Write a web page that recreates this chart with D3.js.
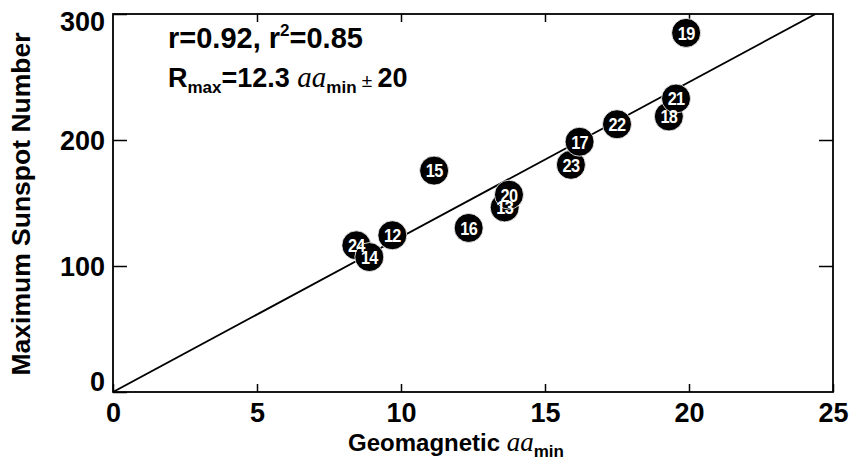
<!DOCTYPE html>
<html>
<head>
<meta charset="utf-8">
<script src="https://cdn.jsdelivr.net/npm/d3@7"></script>
<style>
  html, body { margin: 0; padding: 0; background: #fff; }
  svg { display: block; }
  text { font-family: "Liberation Sans", Arial, Helvetica, sans-serif; font-weight: bold; fill: #000; }
</style>
</head>
<body>
<svg id="chart" width="850" height="468"></svg>
<script>
// Solar cycle numbers, minimum geomagnetic aa index and maximum sunspot number
const cycles = [12, 13, 14, 15, 16, 17, 18, 19, 20, 21, 22, 23, 24];
const aaMin  = [9.7, 13.6, 8.9, 11.15, 12.35, 16.2, 19.3, 19.9, 13.75, 19.55, 17.5, 15.9, 8.45];
const rMax   = [124.4, 146.5, 107.1, 175.7, 130.2, 198.6, 218.7, 285.0, 156.6, 232.9, 212.5, 180.3, 116.4];

// Regression fit through the origin: Rmax = 12.3 aa_min
const fitSlope = 12.3;
const fitXRange = [0, 25];

const xTicks = [0, 5, 10, 15, 20, 25];
const yTicks = [0, 100, 200, 300];

const svg = d3.select("#chart");
const W = 850, H = 468;
const margin = { left: 113, right: 17, top: 14, bottom: 76 };
const x = d3.scaleLinear().domain([0, 25]).range([margin.left, W - margin.right]);
const y = d3.scaleLinear().domain([0, 300]).range([H - margin.bottom, margin.top]);

svg.append("defs").append("clipPath").attr("id", "plotClip")
  .append("rect")
  .attr("x", x(0)).attr("y", y(300))
  .attr("width", x(25) - x(0)).attr("height", y(0) - y(300));

// Bottom axis with labels, ticks pointing inward
const gx = svg.append("g").attr("transform", `translate(0,${y(0)})`)
  .call(d3.axisBottom(x).tickValues(xTicks).tickSize(-8).tickPadding(11).tickFormat(d3.format("d")));
gx.select(".domain").remove();
gx.selectAll("line").attr("stroke", "#000").attr("stroke-width", 1.5);
gx.selectAll("text").attr("font-size", 27).attr("font-family", null);

// Top axis ticks only
const gt = svg.append("g").attr("transform", `translate(0,${y(300)})`)
  .call(d3.axisTop(x).tickValues(xTicks.slice(1, -1)).tickSize(-8).tickFormat(""));
gt.select(".domain").remove();
gt.selectAll("line").attr("stroke", "#000").attr("stroke-width", 1.5);

// Left axis with labels
const gy = svg.append("g").attr("transform", `translate(${x(0)},0)`)
  .call(d3.axisLeft(y).tickValues(yTicks).tickSize(-14).tickPadding(8).tickFormat(d3.format("d")));
gy.select(".domain").remove();
gy.selectAll("line").attr("stroke", "#000").attr("stroke-width", 1.5);
gy.selectAll("text").attr("font-size", 27).attr("font-family", null)
  .attr("dy", d => d === 300 ? "0.62em" : d === 0 ? "-0.05em" : "0.34em");

// Right axis ticks only
const gr = svg.append("g").attr("transform", `translate(${x(25)},0)`)
  .call(d3.axisRight(y).tickValues(yTicks.slice(1, -1)).tickSize(-14).tickFormat(""));
gr.select(".domain").remove();
gr.selectAll("line").attr("stroke", "#000").attr("stroke-width", 1.5);

// Plot frame
svg.append("rect")
  .attr("x", x(0)).attr("y", y(300))
  .attr("width", x(25) - x(0)).attr("height", y(0) - y(300))
  .attr("fill", "none").attr("stroke", "#000").attr("stroke-width", 1.8);

// Fit line
svg.append("line")
  .attr("clip-path", "url(#plotClip)")
  .attr("x1", x(fitXRange[0])).attr("y1", y(fitSlope * fitXRange[0]))
  .attr("x2", x(fitXRange[1])).attr("y2", y(fitSlope * fitXRange[1]))
  .attr("stroke", "#000").attr("stroke-width", 1.8);

// Cycle markers: discs first, then the cycle numbers on top so every label stays legible
const pts = cycles.map((c, i) => ({ c, aa: aaMin[i], r: rMax[i] }))
  .sort((a, b) => a.aa - b.aa);
svg.append("g").selectAll("circle").data(pts).join("circle")
  .attr("cx", d => x(d.aa)).attr("cy", d => y(d.r))
  .attr("r", 14.5).attr("fill", "#000").attr("stroke", "#fff").attr("stroke-width", 0.8);
svg.append("g").selectAll("text").data(pts).join("text")
  .attr("transform", d => `translate(${x(d.aa)},${y(d.r)}) scale(0.86,1)`)
  .attr("text-anchor", "middle").attr("dy", "0.36em")
  .attr("font-size", 19).attr("letter-spacing", -0.8)
  .style("fill", "#fff")
  .text(d => d.c);

// Correlation annotation
const t1 = svg.append("text").attr("x", 168).attr("y", 48).attr("font-size", 29);
t1.append("tspan").text("r=0.92, r");
t1.append("tspan").attr("font-size", 17).attr("dy", -12).text("2");
t1.append("tspan").attr("dy", 12).text("=0.85");

const t2 = svg.append("text").attr("x", 168).attr("y", 87).attr("font-size", 27);
t2.append("tspan").text("R");
t2.append("tspan").attr("font-size", 17).attr("dy", 6).text("max");
t2.append("tspan").attr("dy", -6).text("=12.3 ");
t2.append("tspan").attr("font-family", "'Liberation Serif', 'Times New Roman', serif")
  .attr("font-style", "italic").attr("font-weight", "normal").attr("font-size", 29).text("aa");
t2.append("tspan").attr("font-size", 17).attr("dy", 6).text("min");
t2.append("tspan").attr("dy", -6).attr("font-weight", "normal").attr("font-size", 19).text(" \u00B1 ");
t2.append("tspan").text("20");

// X axis title
const xt = svg.append("text").attr("x", 456).attr("y", 451).attr("text-anchor", "middle").attr("font-size", 24);
xt.append("tspan").text("Geomagnetic ");
xt.append("tspan").attr("font-family", "'Liberation Serif', 'Times New Roman', serif")
  .attr("font-style", "italic").attr("font-weight", "normal").attr("font-size", 27).text("aa");
xt.append("tspan").attr("font-size", 17).attr("dy", 6).text("min");

// Y axis title
svg.append("text")
  .attr("transform", `translate(30,${(y(0) + y(300)) / 2 + 1}) rotate(-90)`)
  .attr("text-anchor", "middle").attr("font-size", 26.5)
  .text("Maximum Sunspot Number");
</script>
</body>
</html>
